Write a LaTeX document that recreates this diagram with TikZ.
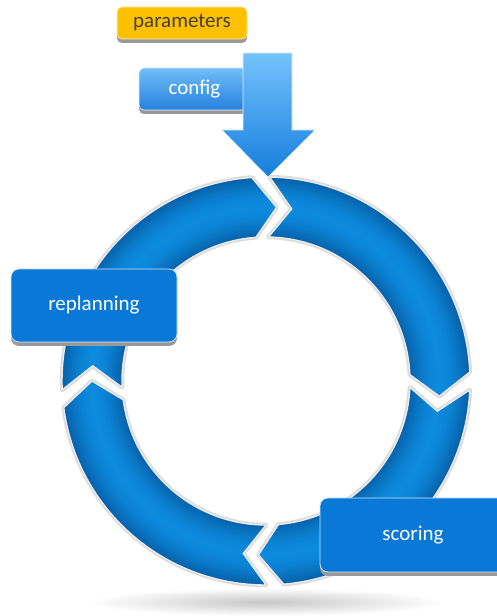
\documentclass[tikz,border=0pt]{standalone}
\usepackage{fontspec}
\setmainfont{Carlito}
\usetikzlibrary{shadows}

\definecolor{ringdark}{RGB}{6,96,170}
\definecolor{ringlight}{RGB}{12,138,220}
\definecolor{boxblue}{RGB}{9,120,215}
\definecolor{amber}{RGB}{255,192,0}
\definecolor{cfgtop}{RGB}{112,190,248}
\definecolor{cfgbot}{RGB}{38,128,222}
\definecolor{arrtop}{RGB}{116,194,252}
\definecolor{arrbot}{RGB}{22,126,220}

\tikzset{
  % one segment of the cycle ring: outer base angle, notch angle, inner base angle, tip angle
  ringseg/.style args={#1/#2/#3/#4}{insert path={
    (#1:204pt) arc[start angle=#1, end angle=#3, radius=204pt]
    -- (#4:174pt) -- (#3:144pt)
    arc[start angle=#3, end angle=#1, radius=144pt]
    -- (#2:174pt) -- cycle}},
  boxshadow/.style={general shadow={fill=black!40, shadow xshift=0pt, shadow yshift=-4pt}},
  labeltext/.style={font=\fontsize{21}{25}\selectfont, inner sep=0pt},
  bluebox/.style={labeltext, rounded corners=8pt, fill=boxblue, draw=white!80!boxblue,
    line width=0.8pt, text=white, boxshadow},
  amberbox/.style={labeltext, rounded corners=5pt, fill=amber, draw=white!70!amber,
    line width=0.6pt, text=black!75, boxshadow},
  cfgbox/.style={labeltext, rounded corners=5pt, top color=cfgtop, bottom color=cfgbot,
    draw=white!75!cfgtop, line width=0.6pt, text=white, boxshadow},
}

\begin{document}
\begin{tikzpicture}[x=1pt,y=1pt]
  \useasboundingbox (0,0) rectangle (497,616);
  \fill[white] (0,0) rectangle (497,616);

  % soft floor shadow under the ring
  \shade[inner color=black!22, outer color=white] (266,14) ellipse[x radius=178pt, y radius=14pt];

  \begin{scope}[shift={(266,235)}]
    \def\segments{89/81.5/2.5/-5, 357.5/350/275/267.5, 270/262.5/187.5/180, 182.5/175/94/86.5}
    % halo around every segment
    \foreach \a/\n/\b/\t in \segments {
      \draw[black!14, line width=4.5pt, line join=round, ringseg=\a/\n/\b/\t];
    }
    % tube-like fill: dark at both rims, bright in the middle
    \foreach \a/\n/\b/\t in \segments {
      \begin{scope}
        \clip[ringseg=\a/\n/\b/\t];
        \foreach \k in {0,...,30} {
          \pgfmathsetmacro\pp{max(0,100*sin(6*\k))}
          \pgfmathsetmacro\rr{144+2*\k}
          \draw[line width=2.6pt, ringlight!\pp!ringdark] (0,0) circle[radius=\rr pt];
        }
      \end{scope}
    }
    % white rim
    \foreach \a/\n/\b/\t in \segments {
      \draw[white!92!black, line width=1.4pt, line join=miter, ringseg=\a/\n/\b/\t];
    }
  \end{scope}

  % labels on the ring
  \node[bluebox, minimum width=166pt, minimum height=73pt] (replan) at (94,310.5) {replanning};
  \node[bluebox, minimum width=186pt, minimum height=74pt] (score) at (413,81) {scoring};

  % inputs at the top
  \node[amberbox, minimum width=130pt, minimum height=32pt] (params) at (182,593) {parameters};
  \node[cfgbox, minimum width=111pt, minimum height=42pt] (config) at (194.5,527) {config};

  % big input arrow feeding the cycle
  \shade[top color=arrtop, bottom color=arrbot, draw=white!80!arrtop, line width=0.6pt]
    (243,563) -- (292,563) -- (292,486) -- (315,486) -- (268,439)
    -- (222,486) -- (243,486) -- cycle;
\end{tikzpicture}
\end{document}
